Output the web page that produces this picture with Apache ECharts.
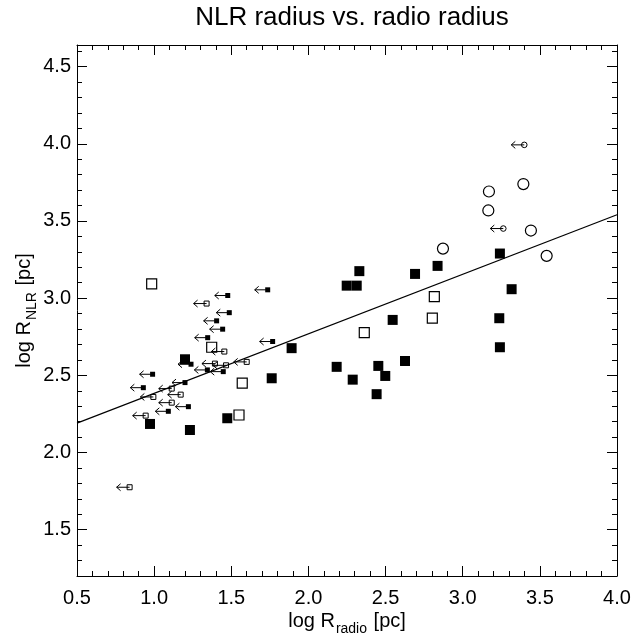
<!DOCTYPE html>
<html><head><meta charset="utf-8">
<script src="https://cdn.jsdelivr.net/npm/echarts@6/dist/echarts.min.js"></script>
<style>html,body{margin:0;padding:0;background:#fff}#c{width:636px;height:633px}</style>
</head><body><div id="c"></div>
<script>
// ---- data ----
const titleText = 'NLR radius vs. radio radius';
const filledSquares = [
  [0.973, 2.185], [1.232, 2.146], [1.474, 2.222], [1.200, 2.604], [1.762, 2.481],
  [1.891, 2.676], [2.183, 2.555], [2.287, 2.472], [2.453, 2.561], [2.498, 2.496],
  [2.442, 2.378], [2.626, 2.593], [2.546, 2.859], [2.248, 3.081], [2.313, 3.081],
  [2.330, 3.175], [2.691, 3.157], [2.837, 3.209], [3.241, 3.289], [3.317, 3.058],
  [3.237, 2.870], [3.241, 2.682]
];
const openSquares = [
  [0.984, 3.092], [1.373, 2.682], [1.571, 2.449], [1.550, 2.243],
  [2.362, 2.777], [2.803, 2.870], [2.816, 3.010]
];
const openCircles = [
  [2.872, 3.321], [3.166, 3.568], [3.170, 3.691], [3.393, 3.739],
  [3.442, 3.438], [3.544, 3.274]
];
const limitCircles = [[3.399, 3.993], [3.263, 3.451]];
const limitFilledSquares = [
  [1.736, 3.054], [1.477, 3.017], [1.487, 2.906], [1.405, 2.853], [1.444, 2.799],
  [1.347, 2.744], [1.768, 2.719], [1.239, 2.572], [1.345, 2.535], [1.448, 2.524],
  [0.990, 2.507], [1.200, 2.453], [0.930, 2.420], [1.222, 2.297], [1.092, 2.267]
];
const limitOpenSquares = [
  [1.340, 2.965], [1.455, 2.654], [1.394, 2.576], [1.466, 2.565], [1.600, 2.587],
  [1.114, 2.414], [0.995, 2.360], [1.172, 2.375], [1.114, 2.323], [0.945, 2.239],
  [0.841, 1.775]
];
const fitLine = [[0.5, 2.19], [4.0, 3.54]];
const xRange = [0.5, 4.0];
const yRange = [1.2, 4.64];
const yMajorTicks = [1.5, 2.0, 2.5, 3.0, 3.5, 4.0, 4.5];
const yMinorTicks = [1.3, 1.4, 1.6, 1.7, 1.8, 1.9, 2.1, 2.2, 2.3, 2.4, 2.6, 2.7, 2.8, 2.9,
  3.1, 3.2, 3.3, 3.4, 3.6, 3.7, 3.8, 3.9, 4.1, 4.2, 4.3, 4.4, 4.6];

// ---- chart ----
const FONT = 'Liberation Sans, Arial, Helvetica, sans-serif';
const chart = echarts.init(document.getElementById('c'), null, {renderer: 'canvas'});

function limitRenderer(kind) {
  return function (params, api) {
    const p = api.coord([api.value(0), api.value(1)]);
    const x = p[0], y = p[1];
    const tip = x - 13;
    const children = [
      {type: 'line', shape: {x1: x, y1: y, x2: tip, y2: y}, style: {stroke: '#000', lineWidth: 1}},
      {type: 'polyline', shape: {points: [[tip + 4, y - 3.5], [tip, y], [tip + 4, y + 3.5]]},
        style: {stroke: '#000', fill: null, lineWidth: 1}}
    ];
    if (kind === 'filled') {
      children.push({type: 'rect', shape: {x: x - 2.5, y: y - 2.5, width: 5, height: 5}, style: {fill: '#000'}});
    } else if (kind === 'open') {
      children.push({type: 'rect', shape: {x: x - 2.5, y: y - 2.5, width: 5, height: 5},
        style: {fill: null, stroke: '#000', lineWidth: 1}});
    } else {
      children.push({type: 'circle', shape: {cx: x, cy: y, r: 2.8},
        style: {fill: null, stroke: '#000', lineWidth: 1}});
    }
    return {type: 'group', children: children};
  };
}

const axisLineStyle = {show: true, lineStyle: {color: '#000', width: 1}};
const majorTick = {show: true, inside: true, length: 10, lineStyle: {color: '#000', width: 1}};
const minorTick = {show: true, splitNumber: 5, length: 5, lineStyle: {color: '#000', width: 1}};
const labelStyle = {color: '#000', fontFamily: FONT, fontSize: 20};
const nameRich = {
  a: {fontFamily: FONT, fontSize: 20, color: '#000', verticalAlign: 'bottom', lineHeight: 22},
  s: {fontFamily: FONT, fontSize: 14, color: '#000', verticalAlign: 'bottom', lineHeight: 15, padding: [0, 1, -5, 1]}
};

const option = {
  backgroundColor: '#fff',
  animation: false,
  title: {
    text: titleText, left: 347, top: 0, textAlign: 'center',
    textStyle: {fontFamily: FONT, fontSize: 26, fontWeight: 'normal', color: '#000'}
  },
  grid: {left: 77, right: 19, top: 45, bottom: 57, containLabel: false, outerBoundsMode: 'none'},
  xAxis: [
    {
      type: 'value', position: 'bottom', min: xRange[0], max: xRange[1], interval: 0.5,
      axisLine: axisLineStyle, axisTick: majorTick, minorTick: minorTick, splitLine: {show: false},
      axisLabel: Object.assign({margin: 12, formatter: v => v.toFixed(1)}, labelStyle),
      name: '{a|log R}{s|radio}{a| [pc]}', nameLocation: 'middle', nameGap: 33, nameMoveOverlap: false,
      nameTextStyle: {rich: nameRich}
    },
    {
      type: 'value', position: 'top', min: xRange[0], max: xRange[1], interval: 0.5,
      axisLine: axisLineStyle, axisTick: majorTick, minorTick: minorTick, splitLine: {show: false},
      axisLabel: {show: false}
    }
  ],
  yAxis: [
    {
      type: 'value', position: 'left', min: yRange[0], max: yRange[1],
      axisLine: axisLineStyle, splitLine: {show: false},
      axisTick: Object.assign({customValues: yMajorTicks}, majorTick),
      axisLabel: Object.assign({margin: 6, customValues: yMajorTicks, formatter: v => v.toFixed(1)}, labelStyle),
      name: '{a|log R}{s|NLR}{a| [pc]}', nameLocation: 'middle', nameGap: 43, nameRotate: 90,
      nameMoveOverlap: false,
      nameTextStyle: {rich: nameRich}
    },
    {
      type: 'value', position: 'right', min: yRange[0], max: yRange[1],
      axisLine: axisLineStyle, splitLine: {show: false},
      axisTick: Object.assign({customValues: yMajorTicks}, majorTick),
      axisLabel: {show: false}
    },
    {
      type: 'value', position: 'left', min: yRange[0], max: yRange[1],
      axisLine: {show: false}, splitLine: {show: false},
      axisTick: {show: true, inside: true, length: 5, customValues: yMinorTicks, lineStyle: {color: '#000', width: 1}},
      axisLabel: {show: false}
    },
    {
      type: 'value', position: 'right', min: yRange[0], max: yRange[1],
      axisLine: {show: false}, splitLine: {show: false},
      axisTick: {show: true, inside: true, length: 5, customValues: yMinorTicks, lineStyle: {color: '#000', width: 1}},
      axisLabel: {show: false}
    }
  ],
  series: [
    {type: 'line', data: fitLine, showSymbol: false, symbol: 'none', clip: true,
      lineStyle: {color: '#000', width: 1.2}, z: 2},
    {type: 'scatter', data: filledSquares, symbol: 'rect', symbolSize: 10,
      itemStyle: {color: '#000', opacity: 1}, z: 3},
    {type: 'scatter', data: openSquares, symbol: 'rect', symbolSize: 10,
      itemStyle: {color: '#fff', borderColor: '#000', borderWidth: 1.2, opacity: 1}, z: 3},
    {type: 'scatter', data: openCircles, symbol: 'circle', symbolSize: 11,
      itemStyle: {color: '#fff', borderColor: '#000', borderWidth: 1.2, opacity: 1}, z: 3},
    {type: 'custom', data: limitFilledSquares, renderItem: limitRenderer('filled'), clip: true, z: 4},
    {type: 'custom', data: limitOpenSquares, renderItem: limitRenderer('open'), clip: true, z: 4},
    {type: 'custom', data: limitCircles, renderItem: limitRenderer('circle'), clip: true, z: 4}
  ]
};
chart.setOption(option);
</script>
</body></html>
